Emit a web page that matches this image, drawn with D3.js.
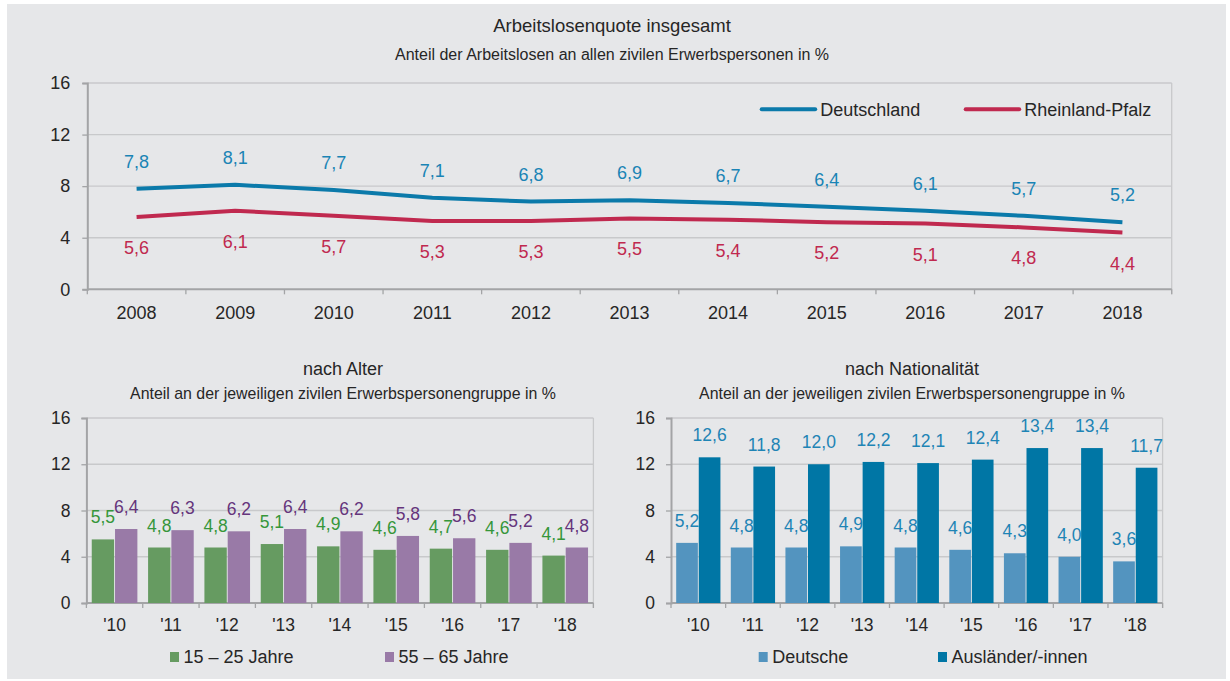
<!DOCTYPE html>
<html lang="de">
<head>
<meta charset="utf-8">
<title>Arbeitslosenquote</title>
<script src="https://cdn.jsdelivr.net/npm/d3@7"></script>
<style>
  html, body { margin: 0; padding: 0; background: #ffffff; }
  svg { display: block; }
  text { font-family: "Liberation Sans", Arial, sans-serif; fill: #262626; }
</style>
</head>
<body>
<svg id="chart" width="1230" height="681"></svg>
<script>
// Arbeitslosenquote insgesamt
const years = ["2008", "2009", "2010", "2011", "2012", "2013", "2014", "2015", "2016", "2017", "2018"];
const deutschland = [7.8, 8.1, 7.7, 7.1, 6.8, 6.9, 6.7, 6.4, 6.1, 5.7, 5.2];
const rheinlandPfalz = [5.6, 6.1, 5.7, 5.3, 5.3, 5.5, 5.4, 5.2, 5.1, 4.8, 4.4];

// nach Alter / nach Nationalität
const shortYears = ["'10", "'11", "'12", "'13", "'14", "'15", "'16", "'17", "'18"];
const age15to25 = [5.5, 4.8, 4.8, 5.1, 4.9, 4.6, 4.7, 4.6, 4.1];
const age55to65 = [6.4, 6.3, 6.2, 6.4, 6.2, 5.8, 5.6, 5.2, 4.8];
const deutsche = [5.2, 4.8, 4.8, 4.9, 4.8, 4.6, 4.3, 4.0, 3.6];
const auslaender = [12.6, 11.8, 12.0, 12.2, 12.1, 12.4, 13.4, 13.4, 11.7];

const yTicks = [0, 4, 8, 12, 16];

const de = d3.formatLocale({ decimal: ",", thousands: ".", grouping: [3], currency: ["", " €"] });
const fmt = de.format(".1f");

const GRID = "#c8c9cb";
const AXIS = "#a3a4a6";

const svg = d3.select("#chart");
svg.append("rect").attr("x", 7).attr("y", 4).attr("width", 1219).attr("height", 675).attr("fill", "#e6e7e9");

// Shared frame: gridlines, plot border, left axis, bottom axis with ticks between categories
function frame(x, y, opt) {
  const [x0, x1] = x.range();
  const [y0, y1] = y.range();
  const g = svg.append("g");
  g.selectAll("line.grid").data(yTicks.filter(t => t > 0)).join("line")
    .attr("x1", x0).attr("x2", x1)
    .attr("y1", d => y(d)).attr("y2", d => y(d))
    .attr("stroke", GRID).attr("stroke-width", 1.3);
  g.append("line").attr("x1", x1).attr("x2", x1).attr("y1", y1).attr("y2", y0 + 5)
    .attr("stroke", GRID).attr("stroke-width", 1.3);

  const yAxis = g.append("g").attr("transform", `translate(${x0},0)`)
    .call(d3.axisLeft(y).tickValues(yTicks).tickSize(5).tickPadding(opt.yPad).tickFormat(d3.format("d")));
  yAxis.select(".domain").attr("stroke", AXIS).attr("stroke-width", 2);
  yAxis.selectAll(".tick line").attr("stroke", AXIS).attr("stroke-width", 1.3);
  yAxis.selectAll("text").attr("font-size", opt.tickFont).attr("fill", "#262626")
    .attr("font-family", "Liberation Sans, Arial, sans-serif");

  // category boundaries for tick marks
  const bounds = x.domain().map(d => x(d) - x.step() * x.paddingOuter());
  bounds.push(x1);
  g.append("line").attr("x1", x0).attr("x2", x1).attr("y1", y0).attr("y2", y0)
    .attr("stroke", AXIS).attr("stroke-width", 2);
  g.selectAll("line.xt").data(bounds).join("line")
    .attr("x1", d => d).attr("x2", d => d).attr("y1", y0).attr("y2", y0 + 5)
    .attr("stroke", AXIS).attr("stroke-width", 1.3);
  g.selectAll("text.xl").data(x.domain()).join("text")
    .attr("x", d => x(d) + x.bandwidth() / 2).attr("y", y0 + opt.xLabelDy)
    .attr("text-anchor", "middle").attr("font-size", opt.tickFont).text(d => d);
  return g;
}

function titles(cx, titleText, subText, ty, sy, tSize, sSize) {
  svg.append("text").attr("x", cx).attr("y", ty).attr("text-anchor", "middle")
    .attr("font-size", tSize).text(titleText);
  svg.append("text").attr("x", cx).attr("y", sy).attr("text-anchor", "middle")
    .attr("font-size", sSize).text(subText);
}

// ---------- Top: line chart ----------
{
  const x = d3.scaleBand().domain(years).range([87.3, 1171.7]).padding(0);
  const y = d3.scaleLinear().domain([0, 16]).range([289.3, 83]);
  titles(612, "Arbeitslosenquote insgesamt", "Anteil der Arbeitslosen an allen zivilen Erwerbspersonen in %", 32.3, 60, 18.5, 16);
  frame(x, y, { yPad: 12, tickFont: 18, xLabelDy: 30 });

  const cx = (d, i) => x(years[i]) + x.bandwidth() / 2;
  const line = d3.line().x(cx).y(d => y(d));
  const series = [
    { values: deutschland, color: "#0b7aaa", label: "#1a84b5", dy: -21 },
    { values: rheinlandPfalz, color: "#c0294f", label: "#c0294f", dy: 37 }
  ];
  series.forEach(s => {
    svg.append("path").datum(s.values).attr("d", line).attr("fill", "none")
      .attr("stroke", s.color).attr("stroke-width", 4).attr("stroke-linejoin", "round");
    svg.append("g").selectAll("text").data(s.values).join("text")
      .attr("x", cx).attr("y", d => y(d) + s.dy).attr("text-anchor", "middle")
      .attr("font-size", 18).style("fill", s.label).text(d => fmt(d));
  });

  // legend
  const legend = [
    { name: "Deutschland", color: "#0b7aaa", x: 761.7 },
    { name: "Rheinland-Pfalz", color: "#c0294f", x: 965.7 }
  ];
  legend.forEach(l => {
    svg.append("line").attr("x1", l.x).attr("x2", l.x + 53.5).attr("y1", 109.3).attr("y2", 109.3)
      .attr("stroke", l.color).attr("stroke-width", 4).attr("stroke-linecap", "round");
    svg.append("text").attr("x", l.x + 58.5).attr("y", 115.8).attr("font-size", 18).text(l.name);
  });
}

// ---------- Bottom: grouped bar charts ----------
function barPanel(cfg) {
  const x = d3.scaleBand().domain(shortYears).range(cfg.range).paddingInner(0.19).paddingOuter(0.095);
  const y = d3.scaleLinear().domain([0, 16]).range([603, 418]);
  titles(cfg.titleX, cfg.title, "Anteil an der jeweiligen zivilen Erwerbspersonengruppe in %", 375.3, 399.3, 18, 15.9);
  frame(x, y, { yPad: 11, tickFont: 17.5, xLabelDy: 28 });

  const keys = cfg.series.map(s => s.key);
  const x1 = d3.scaleBand().domain(keys).range([0, x.bandwidth()]).paddingInner(0.04);
  const rows = shortYears.map((yr, i) => ({ yr, i }));
  const groups = svg.append("g").selectAll("g").data(rows).join("g")
    .attr("transform", d => `translate(${x(d.yr)},0)`);
  cfg.series.forEach(s => {
    groups.append("rect")
      .attr("x", x1(s.key)).attr("width", x1.bandwidth())
      .attr("y", d => y(s.values[d.i])).attr("height", d => y(0) - y(s.values[d.i]))
      .attr("fill", s.color);
    groups.append("text")
      .attr("x", x1(s.key) + x1.bandwidth() / 2).attr("y", d => y(s.values[d.i]) - 16)
      .attr("text-anchor", "middle").attr("font-size", 17.5).style("fill", s.label)
      .text(d => fmt(s.values[d.i]));
  });

  cfg.series.forEach(s => {
    svg.append("rect").attr("x", s.legendX).attr("y", 652).attr("width", 9).attr("height", 10).attr("fill", s.color);
    svg.append("text").attr("x", s.legendX + 13.5).attr("y", 663).attr("font-size", 18).text(s.name);
  });
}

barPanel({
  range: [86.4, 593.4], titleX: 343, title: "nach Alter",
  series: [
    { key: "jung", name: "15 – 25 Jahre", values: age15to25, color: "#669b61", label: "#35963a", legendX: 170 },
    { key: "alt", name: "55 – 65 Jahre", values: age55to65, color: "#997aa7", label: "#65357c", legendX: 385 }
  ]
});

barPanel({
  range: [671, 1162.6], titleX: 912, title: "nach Nationalität",
  series: [
    { key: "de", name: "Deutsche", values: deutsche, color: "#5394bf", label: "#1e84b5", legendX: 758.7 },
    { key: "aus", name: "Ausländer/-innen", values: auslaender, color: "#0076a5", label: "#1e84b5", legendX: 938 }
  ]
});
</script>
</body>
</html>
